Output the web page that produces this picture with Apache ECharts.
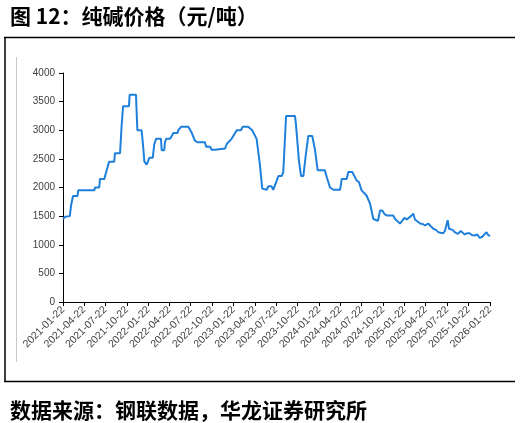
<!DOCTYPE html>
<html><head><meta charset="utf-8">
<script src="https://cdn.jsdelivr.net/npm/echarts@6/dist/echarts.min.js"></script>
<style>html,body{margin:0;padding:0;background:#fff}#c{width:521px;height:423px}</style>
</head><body><div id="c"></div>
<script>
const titleText = '图 12：纯碱价格（元/吨）';
const sourceText = '数据来源：钢联数据，华龙证券研究所';
const tickLabels = ['2021-01-22','2021-04-22','2021-07-22','2021-10-22','2022-01-22','2022-04-22','2022-07-22','2022-10-22','2023-01-22','2023-04-22','2023-07-22','2023-10-22','2024-01-22','2024-04-22','2024-07-22','2024-10-22','2025-01-22','2025-04-22','2025-07-22','2025-10-22','2026-01-22'];
const yTicks = [0, 500, 1000, 1500, 2000, 2500, 3000, 3500, 4000];
const dates = ['2021-01-22','2021-01-29','2021-02-01','2021-02-20','2021-02-26','2021-03-06','2021-03-25','2021-03-28','2021-06-05','2021-06-08','2021-06-26','2021-06-29','2021-07-18','2021-07-21','2021-07-27','2021-08-07','2021-08-29','2021-09-01','2021-09-23','2021-09-30','2021-10-06','2021-10-31','2021-11-03','2021-11-30','2021-12-06','2021-12-24','2021-12-29','2022-01-05','2022-01-15','2022-01-26','2022-02-10','2022-02-16','2022-02-24','2022-03-17','2022-03-20','2022-03-31','2022-04-03','2022-04-08','2022-04-25','2022-05-02','2022-05-09','2022-05-27','2022-05-30','2022-06-11','2022-07-12','2022-07-26','2022-08-09','2022-08-22','2022-09-21','2022-09-26','2022-10-13','2022-10-20','2022-11-03','2022-11-10','2022-12-16','2022-12-23','2023-01-13','2023-02-04','2023-02-22','2023-03-01','2023-03-25','2023-04-11','2023-04-30','2023-05-14','2023-05-24','2023-06-12','2023-06-19','2023-07-03','2023-07-10','2023-07-18','2023-07-25','2023-08-01','2023-08-15','2023-08-22','2023-09-03','2023-10-11','2023-10-15','2023-10-28','2023-11-01','2023-11-06','2023-11-16','2023-11-26','2023-12-07','2023-12-24','2024-01-05','2024-01-16','2024-02-16','2024-02-24','2024-03-09','2024-03-23','2024-04-21','2024-04-28','2024-05-19','2024-05-26','2024-06-12','2024-07-01','2024-07-10','2024-07-22','2024-08-12','2024-08-27','2024-09-10','2024-09-17','2024-09-30','2024-10-09','2024-10-18','2024-10-27','2024-11-06','2024-12-04','2024-12-12','2024-12-19','2025-01-02','2025-01-10','2025-01-21','2025-01-31','2025-02-07','2025-02-18','2025-02-28','2025-03-07','2025-03-15','2025-03-29','2025-04-10','2025-04-19','2025-05-03','2025-05-15','2025-05-25','2025-06-05','2025-06-15','2025-06-25','2025-07-06','2025-07-14','2025-07-25','2025-07-31','2025-08-08','2025-08-15','2025-08-24','2025-09-07','2025-09-19','2025-10-06','2025-10-15','2025-10-27','2025-11-05','2025-11-18','2025-11-28','2025-12-09','2025-12-20','2025-12-28','2026-01-07','2026-01-14','2026-01-22'];
const prices = [1450,1450,1490,1500,1700,1850,1850,1950,1950,2000,2000,2150,2150,2200,2200,2450,2450,2600,2600,3100,3420,3420,3620,3620,3000,3000,2800,2450,2400,2520,2520,2750,2850,2850,2650,2650,2790,2850,2850,2900,2950,2950,3000,3060,3060,2960,2820,2790,2790,2710,2710,2660,2660,2680,2680,2760,2850,3000,3000,3060,3060,3000,2850,2400,1980,1960,2020,2020,1960,1960,2120,2200,2200,2270,3250,3250,3110,2470,2450,2200,2200,2560,2900,2900,2650,2300,2300,2180,2000,1960,1960,2150,2150,2270,2270,2120,2100,1950,1860,1720,1450,1420,1420,1600,1600,1540,1510,1510,1450,1460,1370,1400,1470,1440,1440,1500,1540,1440,1420,1370,1360,1340,1370,1320,1280,1260,1220,1210,1200,1250,1430,1280,1310,1260,1220,1190,1240,1180,1200,1200,1170,1160,1180,1120,1140,1130,1220,1170,1150];

function toTs(s) { const p = s.split('-'); return new Date(+p[0], +p[1] - 1, +p[2]).getTime(); }
function pad(n) { return (n < 10 ? '0' : '') + n; }
function fmt(v) { const d = new Date(v); return d.getFullYear() + '-' + pad(d.getMonth() + 1) + '-' + pad(d.getDate()); }

const tickTs = tickLabels.map(toTs);
const seriesData = dates.map((d, i) => [toTs(d), prices[i]]);

const chart = echarts.init(document.getElementById('c'), null, { renderer: 'canvas' });
chart.setOption({
  animation: false,
  backgroundColor: '#fff',
  title: [
    { text: titleText, left: 5, top: 1, textStyle: { fontFamily: 'Noto Sans CJK SC', fontWeight: 'bold', fontSize: 21, color: '#000' } },
    { text: sourceText, left: 5, top: 395, textStyle: { fontFamily: 'Noto Sans CJK SC', fontWeight: 'bold', fontSize: 21, color: '#000' } }
  ],
  graphic: [
    { type: 'line', shape: { x1: 4, y1: 37.5, x2: 515, y2: 37.5 }, style: { stroke: '#000', lineWidth: 1.5 } },
    { type: 'line', shape: { x1: 5, y1: 37, x2: 5, y2: 382 }, style: { stroke: '#000', lineWidth: 1.5 } },
    { type: 'line', shape: { x1: 4, y1: 381.5, x2: 515, y2: 381.5 }, style: { stroke: '#000', lineWidth: 1.5 } },
    { type: 'line', shape: { x1: 16.5, y1: 57, x2: 16.5, y2: 362 }, style: { stroke: '#c8c8c8', lineWidth: 1 } }
  ],
  grid: { left: 63, right: 31, top: 73, bottom: 121, containLabel: false },
  xAxis: {
    type: 'value',
    min: tickTs[0],
    max: tickTs[tickTs.length - 1],
    splitLine: { show: false },
    axisLine: { lineStyle: { color: '#000', width: 1 } },
    axisTick: { show: true, length: 4, customValues: tickTs, lineStyle: { color: '#000' } },
    axisLabel: {
      customValues: tickTs,
      formatter: function (v) { return fmt(v); },
      rotate: 45,
      fontSize: 10.5,
      fontFamily: 'Liberation Sans',
      color: '#404040',
      margin: 6,
      showMinLabel: true,
      showMaxLabel: true,
      hideOverlap: false
    }
  },
  yAxis: {
    type: 'value',
    min: yTicks[0],
    max: yTicks[yTicks.length - 1],
    interval: 500,
    splitLine: { show: false },
    axisLine: { show: true, lineStyle: { color: '#000', width: 1 } },
    axisTick: { show: true, length: 4, lineStyle: { color: '#000' } },
    axisLabel: { fontSize: 10, fontFamily: 'Liberation Sans', color: '#404040', margin: 8, formatter: function (v) { return String(v); } }
  },
  series: [{
    type: 'line',
    data: seriesData,
    showSymbol: false,
    symbol: 'none',
    lineStyle: { color: '#1f80dc', width: 2 },
    itemStyle: { color: '#1f80dc' }
  }]
});
</script>
</body></html>
